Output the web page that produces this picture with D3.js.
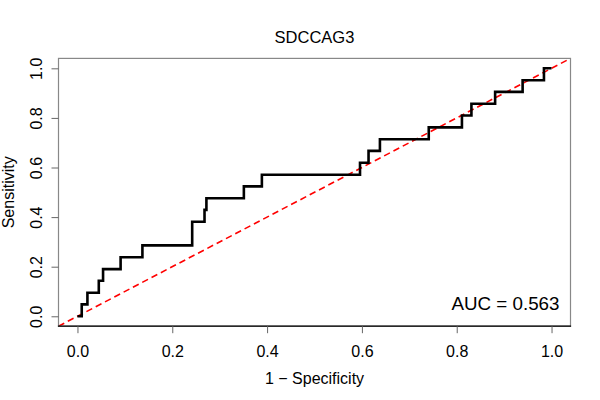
<!DOCTYPE html>
<html><head><meta charset="utf-8">
<script src="https://cdn.jsdelivr.net/npm/d3@7"></script>
<style>body{margin:0;background:#fff}svg{display:block}text{font-family:"Liberation Sans",Arial,sans-serif}</style>
</head><body><svg id="c" width="600" height="400"></svg>
<script>
const title = "SDCCAG3";
const aucLabel = "AUC = 0.563";
const xTicks = [0, 0.2, 0.4, 0.6, 0.8, 1.0];
const yTicks = [0, 0.2, 0.4, 0.6, 0.8, 1.0];
// ROC step vertices: false positive rate (1 - specificity) and sensitivity
const fpr = [0, 0.009, 0.021, 0.045, 0.054, 0.091, 0.137, 0.242, 0.268, 0.272, 0.351, 0.389, 0.596, 0.614, 0.638, 0.741, 0.811, 0.831, 0.881, 0.939, 0.984, 1.0];
const tpr = [0, 0.048, 0.095, 0.143, 0.190, 0.238, 0.286, 0.381, 0.429, 0.476, 0.524, 0.571, 0.619, 0.667, 0.714, 0.762, 0.810, 0.857, 0.905, 0.952, 1.0, 1.0];

const svg = d3.select("#c");
const L = 58.5, R = 570.5, T = 58.4, B = 326.2;
const x = d3.scaleLinear().domain([-0.04, 1.04]).range([L, R]);
const y = d3.scaleLinear().domain([-0.04, 1.04]).range([B, T]);

svg.append("defs").append("clipPath").attr("id","clip")
  .append("rect").attr("x",L).attr("y",T).attr("width",R-L).attr("height",B-T);

// diagonal
svg.append("line").attr("clip-path","url(#clip)")
  .attr("x1",x(-0.04)).attr("y1",y(-0.04)).attr("x2",x(1.04)).attr("y2",y(1.04))
  .attr("stroke","#ff0000").attr("stroke-width",1.6).attr("stroke-dasharray","6.5,4");

// ROC curve
const pts = fpr.map((f,i)=>[f,tpr[i]]);
svg.append("path").datum(pts)
  .attr("d", d3.line().x(d=>x(d[0])).y(d=>y(d[1])).curve(d3.curveStepAfter))
  .attr("fill","none").attr("stroke","#000").attr("stroke-width",2.6).attr("stroke-linejoin","miter");

// box
svg.append("rect").attr("x",L).attr("y",T).attr("width",R-L).attr("height",B-T)
  .attr("fill","none").attr("stroke","#888").attr("stroke-width",1.2);
svg.append("line").attr("x1",L-0.6).attr("x2",R+0.6).attr("y1",B).attr("y2",B)
  .attr("stroke","#000").attr("stroke-width",1.2);

// axes
const xa = svg.append("g").attr("transform",`translate(0,${B})`)
  .call(d3.axisBottom(x).tickValues(xTicks).tickFormat(d3.format(".1f")).tickSize(7).tickPadding(12));
xa.select(".domain").remove();
xa.selectAll("line").attr("stroke","#666").attr("stroke-width",1);
xa.selectAll("text").attr("font-size",16).attr("fill","#000").attr("font-family","Liberation Sans, Arial, sans-serif");

const ya = svg.append("g").attr("transform",`translate(${L},0)`)
  .call(d3.axisLeft(y).tickValues(yTicks).tickFormat(d3.format(".1f")).tickSize(7).tickPadding(0));
ya.select(".domain").remove();
ya.selectAll("line").attr("stroke","#666").attr("stroke-width",1);
ya.selectAll("text").attr("font-size",16).attr("fill","#000").attr("font-family","Liberation Sans, Arial, sans-serif")
  .attr("x",null).attr("dy",null).attr("text-anchor","middle")
  .attr("transform",d=>`translate(${42.3-L},0) rotate(-90)`);

// labels
svg.append("text").attr("x",(L+R)/2).attr("y",43).attr("text-anchor","middle")
  .attr("font-size",16.5).text(title);
svg.append("text").attr("x",(L+R)/2).attr("y",384).attr("text-anchor","middle")
  .attr("font-size",16).text("1 \u2212 Specificity");
svg.append("text").attr("transform",`translate(14,${(T+B)/2}) rotate(-90)`).attr("text-anchor","middle")
  .attr("font-size",16).text("Sensitivity");
svg.append("text").attr("x",559.5).attr("y",310).attr("text-anchor","end")
  .attr("font-size",18.8).text(aucLabel);
</script></body></html>
